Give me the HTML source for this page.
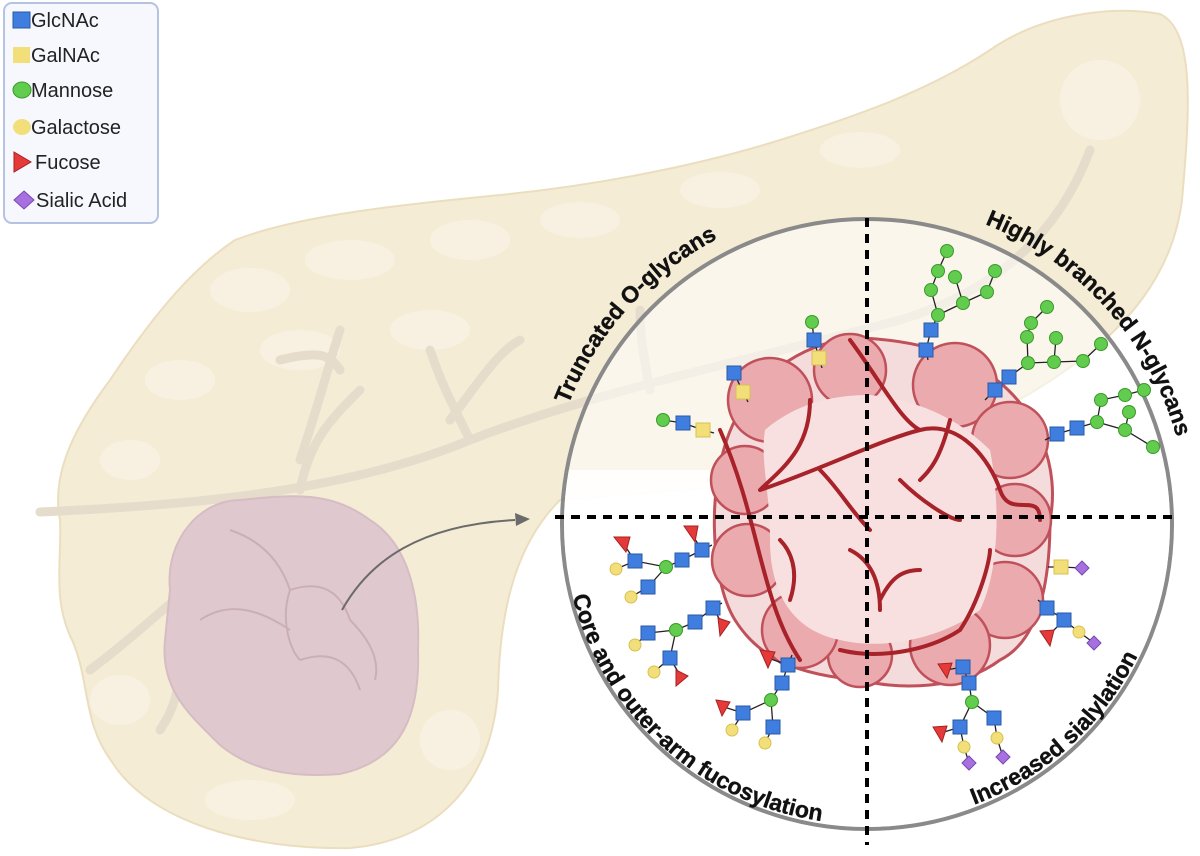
<!DOCTYPE html>
<html><head><meta charset="utf-8"><style>
html,body{margin:0;padding:0;background:#fff;}
svg{display:block;}
text{font-family:"Liberation Sans",sans-serif;}
</style></head><body>
<svg width="1200" height="856" viewBox="0 0 1200 856" xmlns="http://www.w3.org/2000/svg">
<defs>
<path id="arcTL" d="M 546,540 A 322,322 0 0 1 850,202"/>
<path id="arcTR" d="M 884,202 A 322,322 0 0 1 1188,540"/>
<path id="arcBL" d="M 566,560 A 300,300 0 0 0 858,824"/>
<path id="arcBR" d="M 876,824 A 300,300 0 0 0 1166,560"/>
</defs>
<!-- pancreas -->
<path d="M 60,520 C 50,470 80,420 110,380 C 150,320 190,270 235,240 C 300,215 400,205 500,195 C 600,185 700,165 780,140 C 860,115 930,90 990,50 C 1040,15 1110,5 1160,14 C 1195,30 1190,110 1182,200 C 1172,280 1120,330 1080,360 C 1000,420 900,460 800,480 L 560,500 C 520,540 500,600 498,690 C 492,780 440,840 350,848 C 250,850 150,822 112,762 C 82,722 90,680 72,640 C 52,600 62,560 60,520 Z" fill="#f5ecd6" stroke="#ebdebf" stroke-width="2"/>
<g fill="#faf4e6" opacity="0.7">
<ellipse cx="250" cy="290" rx="40" ry="22"/><ellipse cx="350" cy="260" rx="45" ry="20"/><ellipse cx="470" cy="240" rx="40" ry="20"/><ellipse cx="580" cy="220" rx="40" ry="18"/><ellipse cx="180" cy="380" rx="35" ry="20"/><ellipse cx="300" cy="350" rx="40" ry="20"/><ellipse cx="430" cy="330" rx="40" ry="20"/><ellipse cx="720" cy="190" rx="40" ry="18"/><ellipse cx="860" cy="150" rx="40" ry="18"/><ellipse cx="1100" cy="100" rx="40" ry="40"/><ellipse cx="130" cy="460" rx="30" ry="20"/><ellipse cx="120" cy="700" rx="30" ry="25"/><ellipse cx="250" cy="800" rx="45" ry="20"/><ellipse cx="450" cy="740" rx="30" ry="30"/>
</g>
<g fill="none" stroke="#e5dccb" stroke-width="9" stroke-linecap="round">
<path d="M 40,512 C 200,505 350,490 470,440 C 600,390 750,360 900,320 C 1000,290 1060,230 1090,150"/>
<path d="M 300,490 C 310,440 330,420 360,390 M 300,460 C 320,400 330,360 340,330 M 470,440 C 450,400 440,380 430,350 M 450,420 C 480,380 500,350 520,340 M 650,390 C 640,340 640,320 640,310 M 280,360 C 320,350 330,355 340,370 M 160,730 C 180,700 180,680 175,650 M 90,670 C 130,640 150,620 175,600"/>
</g>
<!-- tumor on pancreas -->
<path d="M 170,590 C 165,540 200,500 240,500 C 290,495 330,490 370,520 C 410,545 420,600 418,650 C 420,710 405,760 340,774 C 290,778 250,770 220,745 C 190,715 160,690 165,640 Z" fill="#dfc9cf" stroke="#d6bcc3" stroke-width="2"/>
<g fill="none" stroke="#cbafb7" stroke-width="2">
<path d="M 230,530 C 260,540 280,560 290,590 M 290,590 C 320,580 340,590 350,620 M 290,590 C 280,620 290,650 300,660 M 300,660 C 330,650 350,660 360,690 M 200,620 C 230,600 260,610 290,630 M 350,620 C 370,640 380,660 375,680"/>
</g>
<!-- arrow -->
<path d="M 342,610 C 370,560 420,525 515,520" fill="none" stroke="#6b6b6b" stroke-width="2"/>
<path d="M 530,519 L 515,513 L 516,526 Z" fill="#6b6b6b"/>
<!-- circle -->
<circle cx="867" cy="524" r="305" fill="#ffffff" fill-opacity="0.55" stroke="#8a8a8a" stroke-width="4"/>
<clipPath id="lowc"><rect x="550" y="470" width="650" height="400"/></clipPath>
<circle cx="867" cy="524" r="303" fill="#fff" clip-path="url(#lowc)" opacity="0.85"/>
<!-- tumor -->
<g>
<path d="M 735,420 C 760,370 810,340 860,338 C 910,340 950,350 990,375 C 1040,410 1060,470 1050,520 C 1050,580 1040,640 1000,660 C 960,690 900,690 860,680 C 800,675 760,660 735,620 C 710,580 705,480 735,420 Z" fill="#f5dcdc" stroke="#c0505a" stroke-width="3"/>
<g fill="#eaaaae" stroke="#c0505a" stroke-width="2.5">
<circle cx="770" cy="400" r="42"/><circle cx="850" cy="370" r="36"/><circle cx="955" cy="385" r="42"/><circle cx="1010" cy="440" r="38"/><circle cx="1015" cy="520" r="36"/><circle cx="1005" cy="600" r="38"/><circle cx="950" cy="645" r="40"/><circle cx="860" cy="655" r="32"/><circle cx="800" cy="630" r="38"/><circle cx="748" cy="560" r="36"/><circle cx="745" cy="480" r="34"/>
</g>
<path d="M 765,430 C 800,400 840,395 870,395 C 920,400 960,420 990,450 C 1000,500 1000,570 980,610 C 940,640 880,650 840,640 C 790,630 770,590 770,540 C 770,490 760,460 765,430 Z" fill="#f7e0df"/>
<g fill="none" stroke="#a8222a" stroke-width="4" stroke-linecap="round">
<path d="M 720,430 C 760,520 760,600 800,660 M 760,490 C 820,470 880,440 920,430 M 810,400 C 810,450 780,470 760,490 M 850,340 C 880,380 900,420 920,430 M 920,430 C 960,420 990,460 1000,490 C 1010,520 1040,490 1040,520 M 820,470 C 840,490 850,510 870,530 M 840,650 C 880,660 930,650 960,630 C 980,600 990,560 990,550 M 880,610 C 880,580 870,560 850,550 M 880,600 C 890,580 900,570 920,570 M 950,420 C 940,460 930,470 920,480 M 790,600 C 800,570 790,550 780,540 M 900,480 C 920,500 950,520 960,520"/>
</g>
</g>
<!-- dashed lines -->
<g stroke="#000" stroke-width="4" stroke-dasharray="9,7">
<line x1="555" y1="517" x2="1175" y2="517"/>
<line x1="867" y1="218" x2="867" y2="845"/>
</g>
<!-- glycan links -->
<g stroke="#222" stroke-width="1.3" fill="none">
<path d="M 812,322 L 814,340 L 819,358 L 822,368 M 734,373 L 743,392 L 748,402 M 663,420 L 683,423 L 703,430 L 714,433"/>
<path d="M 928,360 L 926,350 L 931,330 L 938,315 L 931,290 L 938,271 L 947,251 M 938,315 L 963,303 L 955,277 M 963,303 L 987,292 L 995,271"/>
<path d="M 985,400 L 995,390 L 1009,377 L 1028,363 L 1054,362 L 1083,361 L 1101,344 M 1028,363 L 1027,337 M 1054,362 L 1056,338 M 1027,337 L 1031,323 L 1047,307"/>
<path d="M 1045,440 L 1057,434 L 1077,428 L 1097,422 L 1101,400 L 1125,395 L 1144,390 M 1097,422 L 1125,430 L 1153,447 M 1125,430 L 1129,412"/>
<path d="M 712,545 L 702,550 L 682,560 L 666,567 L 635,561 L 616,569 M 666,567 L 648,587 L 631,597 M 635,561 L 623,543 M 702,550 L 691,533"/>
<path d="M 722,603 L 713,608 L 695,622 L 676,630 L 648,633 L 635,645 M 676,630 L 670,658 L 654,672 M 713,608 L 724,627 M 670,658 L 681,677"/>
<path d="M 792,655 L 788,665 L 782,683 L 771,700 L 743,713 L 732,730 M 771,700 L 773,727 L 765,743 M 788,665 L 768,658 M 743,713 L 724,707"/>
<path d="M 1048,567 L 1061,567 L 1082,568 M 1038,600 L 1047,608 L 1064,620 L 1079,632 L 1094,643 M 1064,620 L 1047,637"/>
<path d="M 960,660 L 963,667 L 969,683 L 972,702 L 960,727 L 964,747 L 969,763 M 972,702 L 994,718 L 997,738 L 1003,757 M 963,667 L 946,670 M 960,727 L 941,733"/>
</g>
<g fill="#3f7ede" stroke="#2a5aa8" stroke-width="1">
<rect x="807" y="333" width="14" height="14"/><rect x="727" y="366" width="14" height="14"/><rect x="676" y="416" width="14" height="14"/>
<rect x="919" y="343" width="14" height="14"/><rect x="924" y="323" width="14" height="14"/>
<rect x="988" y="383" width="14" height="14"/><rect x="1002" y="370" width="14" height="14"/>
<rect x="1050" y="427" width="14" height="14"/><rect x="1070" y="421" width="14" height="14"/>
<rect x="695" y="543" width="14" height="14"/><rect x="675" y="553" width="14" height="14"/><rect x="628" y="554" width="14" height="14"/><rect x="641" y="580" width="14" height="14"/>
<rect x="706" y="601" width="14" height="14"/><rect x="688" y="615" width="14" height="14"/><rect x="641" y="626" width="14" height="14"/><rect x="663" y="651" width="14" height="14"/>
<rect x="781" y="658" width="14" height="14"/><rect x="775" y="676" width="14" height="14"/><rect x="736" y="706" width="14" height="14"/><rect x="766" y="720" width="14" height="14"/>
<rect x="1040" y="601" width="14" height="14"/><rect x="1057" y="613" width="14" height="14"/>
<rect x="956" y="660" width="14" height="14"/><rect x="962" y="676" width="14" height="14"/><rect x="953" y="720" width="14" height="14"/><rect x="987" y="711" width="14" height="14"/>
</g>
<g fill="#f2df7a" stroke="#d8c050" stroke-width="1">
<rect x="812" y="351" width="14" height="14"/><rect x="736" y="385" width="14" height="14"/><rect x="696" y="423" width="14" height="14"/><rect x="1054" y="560" width="14" height="14"/>
</g>
<g fill="#62cc4e" stroke="#3a9a2a" stroke-width="1">
<circle cx="812" cy="322" r="6.5"/><circle cx="663" cy="420" r="6.5"/>
<circle cx="938" cy="315" r="6.5"/><circle cx="931" cy="290" r="6.5"/><circle cx="938" cy="271" r="6.5"/><circle cx="947" cy="251" r="6.5"/><circle cx="963" cy="303" r="6.5"/><circle cx="955" cy="277" r="6.5"/><circle cx="987" cy="292" r="6.5"/><circle cx="995" cy="271" r="6.5"/>
<circle cx="1028" cy="363" r="6.5"/><circle cx="1054" cy="362" r="6.5"/><circle cx="1083" cy="361" r="6.5"/><circle cx="1101" cy="344" r="6.5"/><circle cx="1027" cy="337" r="6.5"/><circle cx="1056" cy="338" r="6.5"/><circle cx="1031" cy="323" r="6.5"/><circle cx="1047" cy="307" r="6.5"/>
<circle cx="1097" cy="422" r="6.5"/><circle cx="1101" cy="400" r="6.5"/><circle cx="1125" cy="395" r="6.5"/><circle cx="1144" cy="390" r="6.5"/><circle cx="1125" cy="430" r="6.5"/><circle cx="1153" cy="447" r="6.5"/><circle cx="1129" cy="412" r="6.5"/>
<circle cx="666" cy="567" r="6.5"/><circle cx="676" cy="630" r="6.5"/><circle cx="771" cy="700" r="6.5"/><circle cx="972" cy="702" r="6.5"/>
</g>
<g fill="#f2df7a" stroke="#d8c050" stroke-width="1">
<circle cx="616" cy="569" r="6"/><circle cx="631" cy="597" r="6"/><circle cx="635" cy="645" r="6"/><circle cx="654" cy="672" r="6"/><circle cx="732" cy="730" r="6"/><circle cx="765" cy="743" r="6"/><circle cx="1079" cy="632" r="6"/><circle cx="964" cy="747" r="6"/><circle cx="997" cy="738" r="6"/>
</g>
<g fill="#e43a3a" stroke="#a82020" stroke-width="1">
<path d="M 614,537 L 630,537 L 626,552 Z"/><path d="M 684,526 L 698,526 L 695,542 Z"/><path d="M 718,618 L 730,622 L 720,636 Z"/><path d="M 676,670 L 688,676 L 676,686 Z"/><path d="M 760,650 L 775,652 L 768,668 Z"/><path d="M 716,700 L 730,702 L 722,716 Z"/><path d="M 1040,631 L 1054,630 L 1050,646 Z"/><path d="M 938,664 L 952,663 L 947,678 Z"/><path d="M 933,727 L 947,726 L 942,742 Z"/>
</g>
<g fill="#a770e0" stroke="#7a48b0" stroke-width="1">
<path d="M 1082,561 L 1089,568 L 1082,575 L 1075,568 Z"/><path d="M 1094,636 L 1101,643 L 1094,650 L 1087,643 Z"/><path d="M 969,756 L 976,763 L 969,770 L 962,763 Z"/><path d="M 1003,750 L 1010,757 L 1003,764 L 996,757 Z"/>
</g>
<!-- labels -->
<g font-size="23" font-weight="bold" fill="#111" stroke="#111" stroke-width="0.4">
<text><textPath href="#arcTL" startOffset="50%" text-anchor="middle">Truncated O-glycans</textPath></text>
<text><textPath href="#arcTR" startOffset="50%" text-anchor="middle">Highly branched N-glycans</textPath></text>
<text><textPath href="#arcBL" startOffset="50%" text-anchor="middle">Core and outer-arm fucosylation</textPath></text>
<text><textPath href="#arcBR" startOffset="50%" text-anchor="middle">Increased sialylation</textPath></text>
</g>
<!-- legend -->
<rect x="4" y="3" width="154" height="220" rx="8" fill="#f7f8fd" stroke="#b6c2e2" stroke-width="2"/>
<rect x="13" y="12" width="17" height="16" fill="#3f7ede" stroke="#2a5aa8"/>
<rect x="13" y="47" width="17" height="16" fill="#f2df7a"/>
<ellipse cx="22" cy="90" rx="9" ry="8" fill="#62cc4e" stroke="#3a9a2a"/>
<ellipse cx="22" cy="127" rx="9" ry="8" fill="#f2df7a"/>
<path d="M 14,152 L 31,162 L 14,172 Z" fill="#e43a3a" stroke="#a82020"/>
<path d="M 24,191 L 34,200 L 24,209 L 14,200 Z" fill="#a770e0" stroke="#7a48b0"/>
<g font-size="20" fill="#222">
<text x="31" y="27">GlcNAc</text>
<text x="31" y="62">GalNAc</text>
<text x="31" y="97">Mannose</text>
<text x="31" y="134">Galactose</text>
<text x="35" y="169">Fucose</text>
<text x="36" y="207">Sialic Acid</text>
</g>
</svg>
</body></html>
